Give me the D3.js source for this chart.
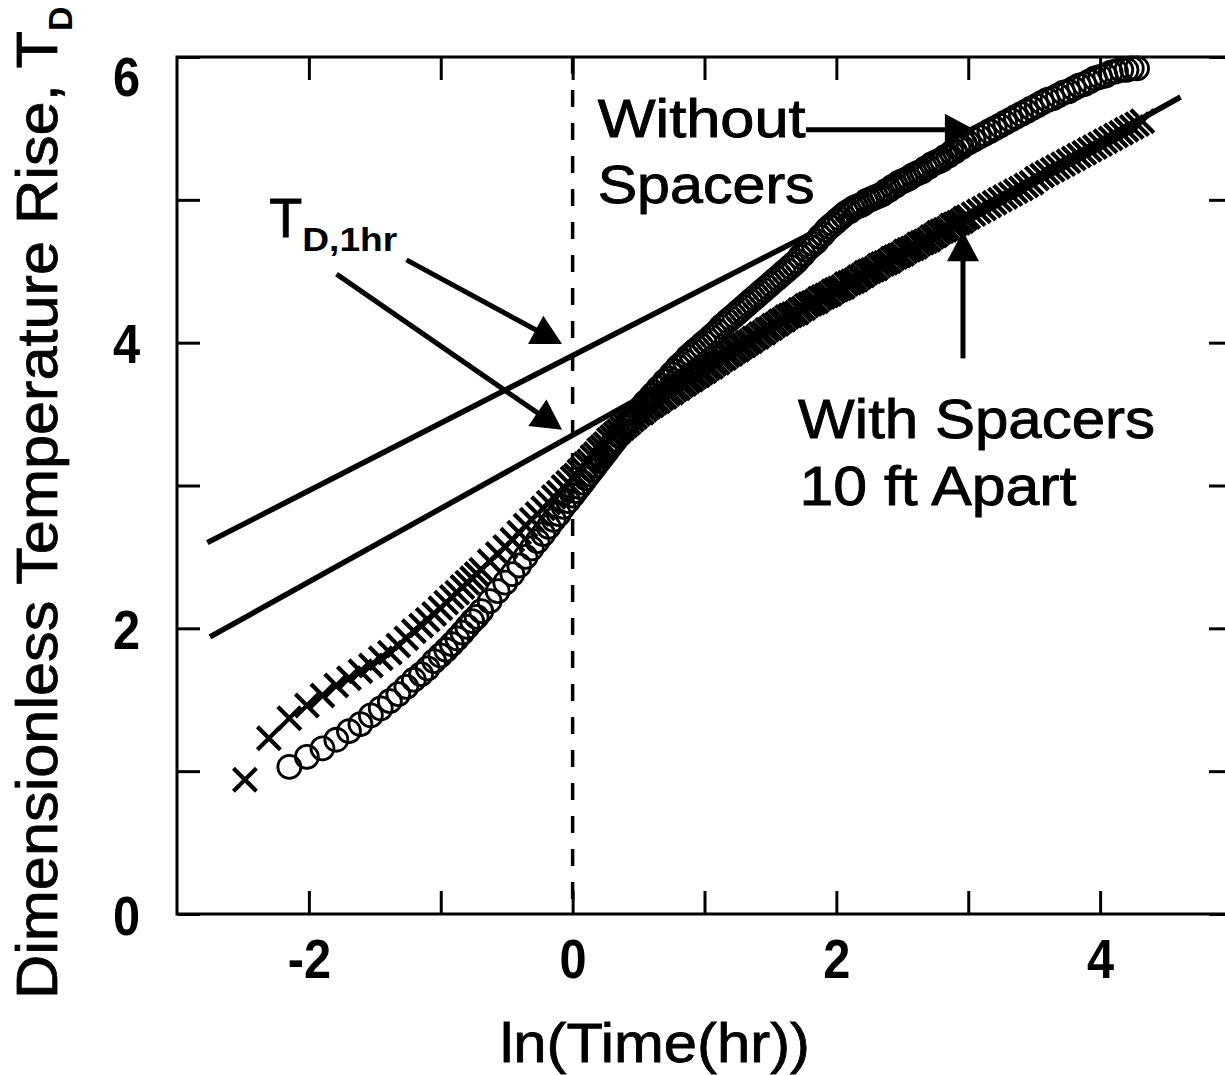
<!DOCTYPE html>
<html>
<head>
    <!-- D3 v7 -->
    <script src="https://d3js.org/d3.v7.min.js"></script>
    <title>Dimensionless temperature rise vs ln(time)</title>
    <style>
        body { margin: 0; background: #ffffff; }
        svg text { font-family: "Liberation Sans", Arial, Helvetica, sans-serif; fill: #000; }
    </style>
</head>
<body>
<div id="chart"></div>
<script>
    // ln(Time(hr)) of each reading, shared by both runs
    let lnTime = [
        -2.485, -2.303, -2.148, -2.015, -1.897, -1.792, -1.696, -1.609, -1.530, -1.455,
        -1.386, -1.322, -1.261, -1.204, -1.149, -1.099, -1.050, -1.003, -0.959, -0.916,
        -0.875, -0.836, -0.799, -0.762, -0.728, -0.693,
        -0.629, -0.568, -0.511, -0.457, -0.405, -0.357, -0.310, -0.266, -0.223, -0.182,
        -0.143, -0.105, -0.069, -0.034, 0.000,
        0.025, 0.050, 0.075, 0.100, 0.125, 0.150, 0.175, 0.200, 0.225, 0.250,
        0.275, 0.300, 0.325, 0.350, 0.375, 0.400, 0.425, 0.450, 0.475, 0.500,
        0.525, 0.550, 0.575, 0.600, 0.625, 0.650, 0.675, 0.700, 0.725, 0.750,
        0.775, 0.800, 0.825, 0.850, 0.875, 0.900, 0.925, 0.950, 0.975, 1.000,
        1.025, 1.050, 1.075, 1.100, 1.125, 1.150, 1.175, 1.200, 1.225, 1.250,
        1.275, 1.300, 1.325, 1.350, 1.375, 1.400, 1.425, 1.450, 1.475, 1.500,
        1.525, 1.550, 1.575, 1.600, 1.625, 1.650, 1.675, 1.700, 1.725, 1.750,
        1.775, 1.800, 1.825, 1.850, 1.875, 1.900, 1.925, 1.950, 1.975, 2.000,
        2.025, 2.050, 2.075, 2.100, 2.125, 2.150, 2.175, 2.200, 2.225, 2.250,
        2.275, 2.300, 2.325, 2.350, 2.375, 2.400, 2.425, 2.450, 2.475, 2.500,
        2.525, 2.550, 2.575, 2.600, 2.625, 2.650, 2.675, 2.700, 2.725, 2.750,
        2.775, 2.800, 2.825, 2.850, 2.875, 2.900, 2.925, 2.950, 2.975, 3.000,
        3.04, 3.08, 3.12, 3.16, 3.20, 3.24, 3.28, 3.32, 3.36, 3.40,
        3.44, 3.48, 3.52, 3.56, 3.60, 3.64, 3.68, 3.72, 3.76, 3.80,
        3.84, 3.88, 3.92, 3.96, 4.00, 4.04, 4.08, 4.12, 4.16, 4.20,
        4.24, 4.28, 4.32
    ];

    // circles - without spacers (no reading at the first two times / last time)
    let withoutSpacers = [
        null, null, 1.03, 1.10, 1.16, 1.22, 1.28, 1.33, 1.39, 1.44,
        1.49, 1.54, 1.59, 1.64, 1.68, 1.72, 1.77, 1.81, 1.85, 1.89,
        1.93, 1.97, 2.01, 2.05, 2.08, 2.12,
        2.19, 2.26, 2.32, 2.38, 2.44, 2.50, 2.56, 2.61, 2.66, 2.71,
        2.76, 2.80, 2.85, 2.89, 2.93,
        2.96, 2.99, 3.02, 3.05, 3.08, 3.11, 3.14, 3.17, 3.20, 3.23,
        3.26, 3.29, 3.32, 3.35, 3.38, 3.41, 3.44, 3.47, 3.50, 3.52,
        3.55, 3.58, 3.60, 3.63, 3.65, 3.68, 3.70, 3.73, 3.75, 3.78,
        3.80, 3.83, 3.85, 3.87, 3.90, 3.92, 3.94, 3.96, 3.98, 4.00,
        4.02, 4.04, 4.06, 4.08, 4.11, 4.13, 4.15, 4.17, 4.19, 4.21,
        4.23, 4.25, 4.27, 4.29, 4.31, 4.33, 4.35, 4.37, 4.39, 4.41,
        4.43, 4.45, 4.47, 4.49, 4.51, 4.53, 4.55, 4.57, 4.60, 4.62,
        4.65, 4.67, 4.69, 4.71, 4.74, 4.76, 4.79, 4.81, 4.83, 4.85,
        4.87, 4.89, 4.91, 4.92, 4.94, 4.95, 4.96, 4.97, 4.99, 5.00,
        5.01, 5.02, 5.03, 5.04, 5.06, 5.07, 5.09, 5.10, 5.12, 5.13,
        5.14, 5.15, 5.17, 5.18, 5.19, 5.20, 5.22, 5.23, 5.25, 5.26,
        5.27, 5.28, 5.30, 5.31, 5.33, 5.34, 5.36, 5.37, 5.39, 5.40,
        5.42, 5.44, 5.46, 5.48, 5.50, 5.52, 5.54, 5.56, 5.58, 5.60,
        5.62, 5.64, 5.66, 5.68, 5.70, 5.71, 5.73, 5.75, 5.76, 5.78,
        5.80, 5.81, 5.83, 5.85, 5.86, 5.87, 5.89, 5.90, 5.91, 5.91,
        5.92, 5.92, null
    ];

    // crosses - with spacers 10 ft apart
    let withSpacers = [
        0.94, 1.23, 1.37, 1.46, 1.53, 1.60, 1.65, 1.70, 1.74, 1.79,
        1.83, 1.88, 1.93, 1.98, 2.02, 2.06, 2.10, 2.14, 2.18, 2.22,
        2.25, 2.29, 2.32, 2.35, 2.38, 2.41,
        2.47, 2.52, 2.57, 2.62, 2.67, 2.72, 2.76, 2.80, 2.84, 2.88,
        2.92, 2.95, 2.99, 3.02, 3.05,
        3.07, 3.10, 3.12, 3.15, 3.17, 3.20, 3.22, 3.25, 3.27, 3.29,
        3.32, 3.34, 3.36, 3.38, 3.40, 3.42, 3.44, 3.46, 3.48, 3.50,
        3.51, 3.53, 3.55, 3.56, 3.58, 3.59, 3.61, 3.62, 3.64, 3.65,
        3.67, 3.68, 3.70, 3.71, 3.73, 3.74, 3.76, 3.77, 3.79, 3.80,
        3.82, 3.83, 3.85, 3.86, 3.88, 3.89, 3.91, 3.92, 3.94, 3.95,
        3.97, 3.98, 4.00, 4.01, 4.03, 4.04, 4.06, 4.07, 4.09, 4.10,
        4.12, 4.13, 4.15, 4.16, 4.18, 4.19, 4.20, 4.21, 4.23, 4.24,
        4.26, 4.27, 4.28, 4.29, 4.31, 4.32, 4.33, 4.34, 4.36, 4.37,
        4.38, 4.39, 4.41, 4.42, 4.43, 4.44, 4.46, 4.47, 4.49, 4.50,
        4.51, 4.52, 4.54, 4.55, 4.56, 4.57, 4.59, 4.60, 4.61, 4.62,
        4.64, 4.65, 4.66, 4.67, 4.69, 4.70, 4.71, 4.72, 4.74, 4.75,
        4.77, 4.78, 4.79, 4.80, 4.82, 4.83, 4.84, 4.85, 4.87, 4.88,
        4.90, 4.92, 4.94, 4.96, 4.98, 5.00, 5.02, 5.04, 5.06, 5.08,
        5.10, 5.12, 5.15, 5.17, 5.19, 5.21, 5.23, 5.25, 5.27, 5.29,
        5.31, 5.33, 5.35, 5.37, 5.39, 5.41, 5.43, 5.45, 5.47, 5.49,
        5.51, 5.53, 5.55
    ];

    // straight-line fits used to read T_D at 1 hr
    let fitUpperX = [-2.77, 1.80];
    let fitUpperY = [2.60, 4.76];
    let fitLowerX = [-2.75, 4.61];
    let fitLowerY = [1.94, 5.72];

    let xTicks = [-2, -1, 0, 1, 2, 3, 4];
    let yTicks = [0, 1, 2, 3, 4, 5, 6];
    let xTickLabels = {"-2": "-2", "0": "0", "2": "2", "4": "4"};
    let yTickLabels = {"0": "0", "2": "2", "4": "4", "6": "6"};

    let width = 1225, height = 1075;
    let svg = d3.select("#chart")
        .append("svg")
        .attr("width", width)
        .attr("height", height)
        .style("display", "block");

    let x = d3.scaleLinear().domain([-3, 5]).range([177, 1232]);
    let y = d3.scaleLinear().domain([0, 6]).range([914, 57]);

    // frame
    svg.append("rect")
        .attr("x", x(-3)).attr("y", y(6))
        .attr("width", x(5) - x(-3)).attr("height", y(0) - y(6))
        .attr("fill", "none").attr("stroke", "#000").attr("stroke-width", 3);

    let tick = 23;
    let bottomAxis = svg.append("g")
        .attr("transform", `translate(0,${y(0)})`)
        .call(d3.axisBottom(x).tickValues(xTicks).tickSizeInner(-tick).tickSizeOuter(0)
            .tickPadding(24).tickFormat(d => xTickLabels[d] || ""));
    let topAxis = svg.append("g")
        .attr("transform", `translate(0,${y(6)})`)
        .call(d3.axisTop(x).tickValues(xTicks).tickSizeInner(-tick).tickSizeOuter(0).tickFormat(""));
    let leftAxis = svg.append("g")
        .attr("transform", `translate(${x(-3)},0)`)
        .call(d3.axisLeft(y).tickValues(yTicks).tickSizeInner(-tick).tickSizeOuter(0)
            .tickPadding(37).tickFormat(d => yTickLabels[d] || ""));
    let rightAxis = svg.append("g")
        .attr("transform", `translate(${x(5)},0)`)
        .call(d3.axisRight(y).tickValues(yTicks).tickSizeInner(-tick).tickSizeOuter(0).tickFormat(""));

    [bottomAxis, topAxis, leftAxis, rightAxis].forEach(g => {
        g.select(".domain").remove();
        g.selectAll(".tick line").attr("stroke", "#000").attr("stroke-width", 3);
    });

    // bold, slightly condensed tick numbers
    svg.selectAll(".tick text")
        .attr("fill", "#000")
        .style("font-family", "'Liberation Sans', Arial, sans-serif")
        .style("font-size", "56px")
        .style("font-weight", "bold")
        .each(function () {
            let len = this.getComputedTextLength();
            if (len > 0) d3.select(this).attr("textLength", len * 0.87).attr("lengthAdjust", "spacingAndGlyphs");
        });
    leftAxis.selectAll(".tick text").attr("dy", d => d === 6 ? "0.68em" : "0.36em");

    // ln(time) = 0 : one hour
    svg.append("line")
        .attr("x1", x(0)).attr("x2", x(0))
        .attr("y1", y(6)).attr("y2", y(0))
        .attr("stroke", "#000").attr("stroke-width", 3.5)
        .attr("stroke-dasharray", "17,16");

    // fitted straight lines
    let line = d3.line().x(d => x(d[0])).y(d => y(d[1]));
    [[fitUpperX, fitUpperY], [fitLowerX, fitLowerY]].forEach(([fx, fy]) => {
        svg.append("path")
            .attr("d", line(d3.zip(fx, fy)))
            .attr("fill", "none").attr("stroke", "#000").attr("stroke-width", 5.5);
    });

    // data markers
    let circleData = d3.zip(lnTime, withoutSpacers).filter(d => d[1] !== null);
    let crossData = d3.zip(lnTime, withSpacers).filter(d => d[1] !== null);

    svg.append("g").selectAll("circle")
        .data(circleData)
        .enter()
        .append("circle")
        .attr("cx", d => x(d[0]))
        .attr("cy", d => y(d[1]))
        .attr("r", 11.5)
        .attr("fill", "none")
        .attr("stroke", "#000")
        .attr("stroke-width", 2.8);

    let s = 11.5;
    svg.append("g").selectAll("path")
        .data(crossData)
        .enter()
        .append("path")
        .attr("transform", d => `translate(${x(d[0])},${y(d[1])})`)
        .attr("d", `M${-s},${-s}L${s},${s}M${-s},${s}L${s},${-s}`)
        .attr("stroke", "#000")
        .attr("stroke-width", 4.2);

    // arrows (tail -> tip, in data units)
    function arrow(x1, y1, x2, y2) {
        let px1 = x(x1), py1 = y(y1), px2 = x(x2), py2 = y(y2);
        let dx = px2 - px1, dy = py2 - py1;
        let l = Math.hypot(dx, dy);
        let ux = dx / l, uy = dy / l;
        let head = 30, half = 16;
        let bx = px2 - ux * head, by = py2 - uy * head;
        svg.append("line")
            .attr("x1", px1).attr("y1", py1)
            .attr("x2", bx + ux * 2).attr("y2", by + uy * 2)
            .attr("stroke", "#000").attr("stroke-width", 5);
        svg.append("path")
            .attr("d", `M${px2},${py2}L${bx - uy * half},${by + ux * half}L${bx + uy * half},${by - ux * half}Z`)
            .attr("fill", "#000");
    }
    arrow(1.77, 5.49, 3.05, 5.49);      // Without Spacers
    arrow(2.96, 3.89, 2.96, 4.78);      // With Spacers
    arrow(-1.26, 4.58, -0.08, 3.99);    // T_D,1hr upper
    arrow(-1.79, 4.48, -0.08, 3.39);    // T_D,1hr lower

    // annotation text
    function label(txt, lx, ly, size, len, weight) {
        let t = svg.append("text")
            .attr("x", x(lx)).attr("y", y(ly))
            .style("font-size", size + "px")
            .style("font-weight", weight || "normal")
            .attr("stroke", "#000")
            .attr("stroke-width", weight ? 0 : 0.9)
            .text(txt);
        if (len) t.attr("textLength", len).attr("lengthAdjust", "spacingAndGlyphs");
        return t;
    }
    label("Without", 0.19, 5.44, 54, 208);
    label("Spacers", 0.19, 4.98, 54, 217);
    label("With Spacers", 1.71, 3.33, 55, 357);
    label("10 ft Apart", 1.72, 2.86, 55, 277);
    label("T", -2.30, 4.74, 56, 33);
    label("D,1hr", -2.05, 4.64, 33, 95, "bold");

    // axis titles
    svg.append("text")
        .attr("x", 500).attr("y", 1062)
        .style("font-size", "55px")
        .attr("stroke", "#000").attr("stroke-width", 0.8)
        .attr("textLength", 310).attr("lengthAdjust", "spacingAndGlyphs")
        .text("ln(Time(hr))");
    svg.append("text")
        .attr("transform", "translate(57,999) rotate(-90)")
        .style("font-size", "58px")
        .attr("stroke", "#000").attr("stroke-width", 0.8)
        .attr("textLength", 968).attr("lengthAdjust", "spacingAndGlyphs")
        .text("Dimensionless Temperature Rise, T");
    svg.append("text")
        .attr("transform", "translate(72,31) rotate(-90)")
        .style("font-size", "34px")
        .style("font-weight", "bold")
        .text("D");
</script>
</body>
</html>
